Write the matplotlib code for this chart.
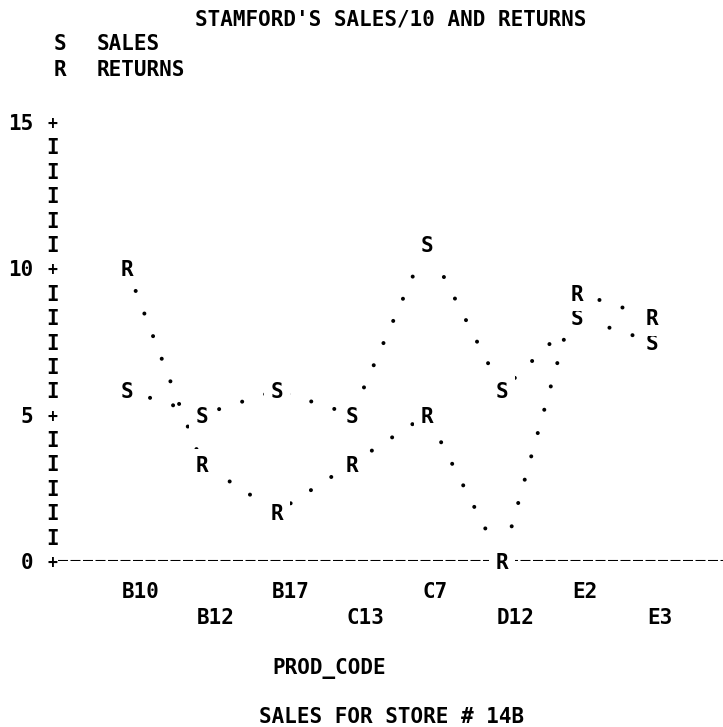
import numpy as np
import matplotlib.pyplot as plt

# data (sales are divided by 10)
prod_codes = ['B10', 'B12', 'B17', 'C13', 'C7', 'D12', 'E2', 'E3']
sales = [5.83, 5.0, 5.83, 5.0, 10.83, 5.83, 8.33, 7.5]
returns = [10.0, 3.33, 1.67, 3.33, 5.0, 0.0, 9.17, 8.33]
y_ticks = [0, 5, 10, 15]

W, H = 723, 727
plt.rcParams['font.family'] = ['DejaVu Sans Mono']
plt.rcParams['font.weight'] = 'bold'
plt.rcParams['font.size'] = 15

fig = plt.figure(figsize=(W / 100, H / 100), dpi=100)
ax = fig.add_axes([53 / W, (H - 561) / H, 670 / W, 439 / H])
x = np.arange(len(prod_codes))
ax.set_xlim(-74 / 75, 596 / 75)
ax.set_ylim(0, 15)
ax.axis('off')

# dotted connecting lines
dot = dict(color='black', lw=2.9, ls=(0, (0.01, 6)), dash_capstyle='round', zorder=1)
ax.plot(x, sales, **dot)
ax.plot(x, returns, **dot)

# x axis made of dashes
ax.axhline(0, xmin=5 / 670, xmax=1, color='black', lw=1.5, ls=(0, (4.8, 1.2)), zorder=1)

# plot symbols
box = dict(facecolor='white', edgecolor='none', pad=5)
for xi, s, r in zip(x, sales, returns):
    ax.text(xi, s, 'S', ha='center', va='center_baseline', bbox=box, zorder=3)
    ax.text(xi, r, 'R', ha='center', va='center_baseline', bbox=box, zorder=3)

# vertical axis drawn with characters
ytr = ax.get_yaxis_transform()
for k in range(19):
    v = k * 5 / 6
    ax.text(0, v, '+' if k % 6 == 0 else 'I', transform=ytr,
            ha='center', va='center_baseline', zorder=4,
            fontsize=12 if k % 6 == 0 else 15)
for v in y_ticks:
    ax.text(-20 / 670, v, str(v), transform=ytr, ha='right', va='center_baseline')

# staggered category labels
xtr = ax.get_xaxis_transform()
for i, code in enumerate(prod_codes):
    row = -29 / 439 if i % 2 == 0 else -55 / 439
    ax.text(i - 5 / 75, row, code, transform=xtr, ha='left', va='center_baseline')


def ftext(xp, yp, s, **kw):
    fig.text(xp / W, 1 - yp / H, s, va='center_baseline', **kw)


ftext(195, 17.5, "STAMFORD'S SALES/10 AND RETURNS")
ftext(60, 42.5, 'S', ha='center')
ftext(97, 42.5, 'SALES')
ftext(60, 67.5, 'R', ha='center')
ftext(97, 67.5, 'RETURNS')
ftext(272, 666, 'PROD_CODE')
ftext(259, 715, 'SALES FOR STORE # 14B')

fig.savefig('out.png', dpi=100)
